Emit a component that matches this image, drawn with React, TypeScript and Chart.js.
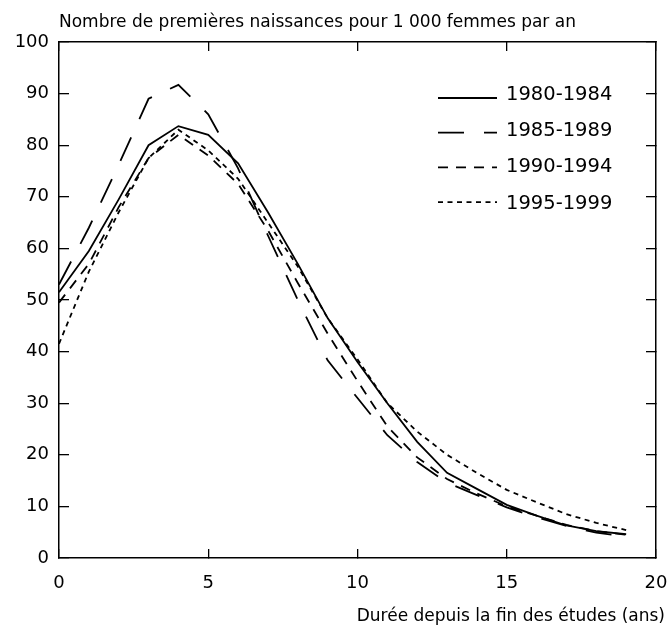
import React, { useEffect, useRef } from "react";
import Chart from "chart.js/auto";

const years = [0, 1, 2, 3, 4, 5, 6, 7, 8, 9, 10, 11, 12, 13, 14, 15, 16, 17, 18, 19];
const series1980 = [51.5, 59.5, 69.5, 80, 83.7, 82, 76.5, 67, 57, 46.5, 38, 30, 22.5, 16.5, 13.4, 10.3, 8.2, 6.3, 5.2, 4.6];
const series1985 = [53, 64, 76.2, 89, 91.7, 86, 75.5, 62.5, 50, 38.3, 31, 23.8, 18.6, 14.6, 12.2, 9.8, 7.9, 6.2, 4.9, 4.2];
const series1990 = [49.5, 57, 68, 77.5, 82, 78, 72.5, 63.5, 53.3, 43.5, 34.3, 25.5, 19.5, 15.3, 12.5, 10, 8.2, 6.4, 5.2, 4.5];
const series1995 = [41.5, 55.5, 67, 77.5, 83, 79, 73.5, 65, 56.5, 46.5, 38.5, 30, 24.5, 20, 16.5, 13.2, 10.8, 8.5, 6.8, 5.4];
const seriesNames = ["1980-1984", "1985-1989", "1990-1994", "1995-1999"];
const xTicks = [0, 5, 10, 15, 20];
const yTicks = [0, 10, 20, 30, 40, 50, 60, 70, 80, 90, 100];
const chartTitle = "Nombre de premières naissances pour 1 000 femmes par an";
const xAxisTitle = "Durée depuis la fin des études (ans)";

const FONT = "'DejaVu Sans', sans-serif";

const insideLegend = {
  id: "insideLegend",
  afterDraw(chart: any) {
    const ctx = chart.ctx;
    chart.data.datasets.forEach((ds: any, i: number) => {
      const ly = 98 + i * 34.7;
      ctx.save();
      ctx.strokeStyle = ds.borderColor;
      ctx.lineWidth = ds.borderWidth;
      ctx.setLineDash(ds.borderDash || []);
      ctx.beginPath();
      ctx.moveTo(438, ly);
      ctx.lineTo(497, ly);
      ctx.stroke();
      ctx.setLineDash([]);
      ctx.font = `19.5px ${FONT}`;
      ctx.fillStyle = "#000";
      ctx.textAlign = "left";
      ctx.textBaseline = "alphabetic";
      ctx.fillText(ds.label, 506, 100 + i * 36.2);
      ctx.restore();
    });
  },
};

export default function App() {
  const ref = useRef<HTMLCanvasElement | null>(null);

  useEffect(() => {
    if (!ref.current) return;
    Chart.defaults.font.family = FONT;
    Chart.defaults.color = "#000";
    const allSeries = [series1980, series1985, series1990, series1995];
    const dashes = [[], [26, 20], [10, 8], [5, 4.5]];
    const datasets = allSeries.map((s, i) => ({
      label: seriesNames[i],
      data: years.map((x, j) => ({ x, y: s[j] })),
      borderColor: "#000",
      borderWidth: 1.8,
      borderDash: dashes[i],
      pointRadius: 0,
      fill: false,
      tension: 0,
    }));

    const gridOpts = {
      display: true,
      drawOnChartArea: false,
      drawTicks: true,
      tickLength: -9,
      color: "#000",
      lineWidth: 1.3,
    };
    const borderOpts = { display: true, color: "#000", width: 1.5 };
    const noPad = (s: any) => {
      s.paddingLeft = 0;
      s.paddingRight = 0;
      s.paddingTop = 0;
      s.paddingBottom = 0;
    };

    const chart = new Chart(ref.current, {
      type: "line",
      data: { datasets },
      plugins: [insideLegend],
      options: {
        animation: false,
        responsive: false,
        devicePixelRatio: 1,
        layout: { padding: { left: 0, right: 5, top: 0, bottom: 0 } },
        plugins: {
          legend: { display: false },
          tooltip: { enabled: false },
          title: {
            display: true,
            text: chartTitle,
            align: "start",
            fullSize: false,
            color: "#000",
            font: { size: 17, weight: "normal", family: FONT },
            padding: { top: 12, bottom: 9.6 },
          },
          subtitle: {
            display: true,
            text: xAxisTitle,
            position: "bottom",
            align: "end",
            color: "#000",
            font: { size: 17, weight: "normal", family: FONT },
            padding: { top: 0, bottom: 2.8 },
          },
        },
        scales: {
          x: {
            type: "linear",
            position: "bottom",
            min: 0,
            max: 20,
            afterBuildTicks: (s: any) => {
              s.ticks = xTicks.map((v) => ({ value: v }));
            },
            ticks: { color: "#000", font: { size: 18 }, padding: 24, maxRotation: 0, autoSkip: false },
            grid: gridOpts,
            border: borderOpts,
            afterFit: (s: any) => {
              s.height = 48.8;
              noPad(s);
            },
          },
          x2: {
            type: "linear",
            axis: "x",
            position: "top",
            min: 0,
            max: 20,
            afterBuildTicks: (s: any) => {
              s.ticks = xTicks.map((v) => ({ value: v }));
            },
            ticks: { display: false },
            grid: gridOpts,
            border: borderOpts,
            afterFit: (s: any) => {
              s.height = 0;
              noPad(s);
            },
          },
          y: {
            type: "linear",
            position: "left",
            min: 0,
            max: 100,
            afterBuildTicks: (s: any) => {
              s.ticks = yTicks.map((v) => ({ value: v }));
            },
            ticks: { color: "#000", font: { size: 18 }, padding: 20, autoSkip: false },
            grid: { ...gridOpts, tickLength: -10 },
            border: borderOpts,
            afterFit: (s: any) => {
              s.width = 59;
              noPad(s);
            },
          },
          y2: {
            type: "linear",
            axis: "y",
            position: "right",
            min: 0,
            max: 100,
            afterBuildTicks: (s: any) => {
              s.ticks = yTicks.map((v) => ({ value: v }));
            },
            ticks: { display: false },
            grid: { ...gridOpts, tickLength: -10 },
            border: borderOpts,
            afterFit: (s: any) => {
              s.width = 9;
              noPad(s);
            },
          },
        },
      } as any,
    });
    return () => chart.destroy();
  }, []);

  return (
    <div style={{ position: "absolute", left: 0, top: 0, width: 670, height: 630 }}>
      <canvas ref={ref} width={670} height={630} style={{ width: 670, height: 630, display: "block" }} />
    </div>
  );
}
